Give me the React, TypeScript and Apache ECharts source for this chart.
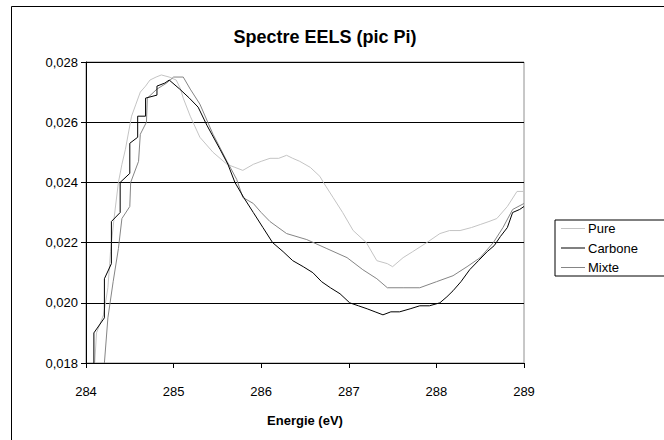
import React, { useEffect, useRef } from "react";
import * as echarts from "echarts";

const titleText = "Spectre EELS (pic Pi)";
const xAxisName = "Energie (eV)";
const seriesNames = ["Pure", "Carbone", "Mixte"];

const pureE = [284.10, 284.12, 284.20, 284.25, 284.28, 284.32, 284.37, 284.41, 284.45, 284.52, 284.57, 284.62, 284.68, 284.73, 284.80, 284.86, 284.95, 285.03, 285.08, 285.11, 285.19, 285.30, 285.45, 285.61, 285.70, 285.79, 285.91, 286.00, 286.10, 286.20, 286.29, 286.36, 286.44, 286.56, 286.67, 286.71, 286.82, 286.93, 287.05, 287.20, 287.32, 287.44, 287.50, 287.62, 287.73, 287.89, 288.04, 288.15, 288.27, 288.40, 288.50, 288.60, 288.69, 288.81, 288.92, 289.00];
const pureV = [0.0180, 0.0190, 0.0196, 0.0205, 0.0217, 0.0228, 0.0240, 0.0246, 0.0251, 0.0262, 0.0266, 0.0270, 0.0272, 0.0274, 0.0275, 0.02757, 0.0275, 0.0274, 0.0271, 0.0268, 0.0262, 0.0255, 0.0250, 0.0246, 0.0245, 0.0244, 0.0246, 0.0247, 0.0248, 0.0248, 0.0249, 0.0248, 0.0247, 0.0245, 0.0242, 0.0240, 0.0235, 0.0230, 0.0224, 0.0220, 0.0214, 0.0213, 0.0212, 0.0215, 0.0217, 0.0220, 0.0223, 0.0224, 0.0224, 0.0225, 0.0226, 0.0227, 0.0228, 0.0232, 0.0237, 0.0237];

const carboneE = [284.09, 284.09, 284.21, 284.21, 284.29, 284.29, 284.39, 284.39, 284.50, 284.50, 284.59, 284.59, 284.68, 284.68, 284.81, 284.81, 284.90, 284.95, 285.07, 285.18, 285.28, 285.38, 285.53, 285.62, 285.70, 285.80, 285.91, 286.02, 286.13, 286.25, 286.36, 286.48, 286.59, 286.69, 286.79, 286.90, 287.01, 287.11, 287.21, 287.30, 287.39, 287.48, 287.58, 287.70, 287.81, 287.92, 288.04, 288.12, 288.19, 288.28, 288.38, 288.48, 288.58, 288.66, 288.73, 288.81, 288.87, 288.95, 289.00];
const carboneV = [0.0180, 0.0190, 0.0195, 0.0208, 0.0213, 0.0227, 0.0230, 0.0240, 0.0243, 0.0253, 0.0255, 0.0262, 0.0262, 0.0268, 0.0269, 0.0272, 0.0273, 0.0274, 0.0271, 0.0268, 0.0265, 0.0259, 0.0251, 0.0246, 0.0240, 0.0235, 0.0230, 0.0225, 0.0220, 0.0217, 0.0214, 0.0212, 0.0210, 0.0207, 0.0205, 0.0203, 0.0200, 0.0199, 0.0198, 0.0197, 0.0196, 0.0197, 0.0197, 0.0198, 0.0199, 0.0199, 0.0200, 0.0202, 0.0204, 0.0207, 0.0211, 0.0214, 0.0217, 0.0219, 0.0222, 0.0225, 0.0230, 0.0231, 0.0232];

const mixteE = [284.21, 284.25, 284.31, 284.37, 284.41, 284.50, 284.51, 284.60, 284.62, 284.69, 284.70, 284.81, 284.92, 285.00, 285.11, 285.19, 285.30, 285.45, 285.61, 285.72, 285.79, 285.91, 286.00, 286.10, 286.29, 286.52, 286.75, 286.98, 287.16, 287.32, 287.44, 287.62, 287.81, 288.00, 288.19, 288.35, 288.50, 288.65, 288.76, 288.87, 289.00];
const mixteV = [0.0180, 0.0195, 0.0207, 0.0218, 0.0228, 0.0232, 0.0240, 0.0247, 0.0256, 0.0260, 0.0268, 0.0271, 0.0273, 0.0275, 0.0275, 0.0271, 0.0266, 0.0256, 0.0247, 0.0241, 0.0235, 0.0233, 0.0230, 0.0227, 0.0223, 0.0221, 0.0218, 0.0215, 0.0211, 0.0208, 0.0205, 0.0205, 0.0205, 0.0207, 0.0209, 0.0212, 0.0215, 0.0220, 0.0225, 0.0231, 0.0233];

const seriesColors = ["#c4c4c4", "#000000", "#858585"];
const FONT = "'Liberation Sans', Arial, sans-serif";

function zip(xs: number[], ys: number[]) {
  return xs.map((x, i) => [x, ys[i]]);
}

export default function App() {
  const ref = useRef<HTMLDivElement>(null);
  useEffect(() => {
    if (!ref.current) return;
    const chart = echarts.init(ref.current, undefined, { renderer: "svg" });
    const data = [zip(pureE, pureV), zip(carboneE, carboneV), zip(mixteE, mixteV)];
    chart.setOption({
      animation: false,
      backgroundColor: "#ffffff",
      textStyle: { fontFamily: FONT },
      graphic: [
        {
          type: "rect",
          shape: { x: 11.5, y: 6.5, width: 700, height: 500 },
          style: { fill: "none", stroke: "#000", lineWidth: 1 },
          silent: true,
        },
        {
          type: "text",
          x: 325,
          y: 37,
          style: {
            text: titleText,
            fontFamily: FONT,
            fontSize: 18,
            fontWeight: "bold",
            fill: "#000",
            align: "center",
            verticalAlign: "middle",
          },
        },
      ],
      legend: {
        orient: "vertical",
        left: 555,
        top: 220,
        data: seriesNames,
        icon: "rect",
        borderColor: "#000",
        borderWidth: 1,
        padding: [2, 40, 2, 6],
        itemGap: 6.5,
        itemWidth: 24,
        itemHeight: 1,
        textStyle: { fontFamily: FONT, fontSize: 13, color: "#000", padding: [0, 0, 0, -2], lineHeight: 12 },
      },
      grid: {
        left: 86,
        right: 140,
        top: 62,
        bottom: 77,
        show: true,
        borderColor: "#909090",
        borderWidth: 1,
      },
      xAxis: {
        type: "value",
        min: 284,
        max: 289,
        interval: 1,
        name: xAxisName,
        nameLocation: "middle",
        nameGap: 51,
        nameTextStyle: { fontFamily: FONT, fontSize: 13, fontWeight: "bold", color: "#000" },
        axisLine: { show: true, onZero: false, lineStyle: { color: "#000", width: 1 } },
        axisTick: { show: true, inside: false, length: 5, lineStyle: { color: "#000" } },
        axisLabel: { fontFamily: FONT, fontSize: 13, color: "#000", margin: 22 },
        splitLine: { show: false },
      },
      yAxis: {
        type: "value",
        min: 0.018,
        max: 0.028,
        interval: 0.002,
        axisLine: { show: true, onZero: false, lineStyle: { color: "#000", width: 1 } },
        axisTick: { show: true, inside: false, length: 5, lineStyle: { color: "#000" } },
        axisLabel: {
          fontFamily: FONT,
          fontSize: 13,
          color: "#000",
          margin: 8,
          formatter: (v: number) => v.toFixed(3).replace(".", ","),
        },
        splitLine: { show: true, lineStyle: { color: "#000", width: 1 } },
      },
      series: seriesNames.map((name, i) => ({
        name,
        type: "line",
        data: data[i],
        showSymbol: false,
        symbol: "none",
        lineStyle: { color: seriesColors[i], width: 1 },
        itemStyle: { color: seriesColors[i] },
        z: i === 1 ? 3 : 2,
      })),
    });
    return () => chart.dispose();
  }, []);
  return (
    <div
      ref={ref}
      style={{ position: "fixed", left: 0, top: 0, width: 664, height: 440, background: "#fff" }}
    />
  );
}
